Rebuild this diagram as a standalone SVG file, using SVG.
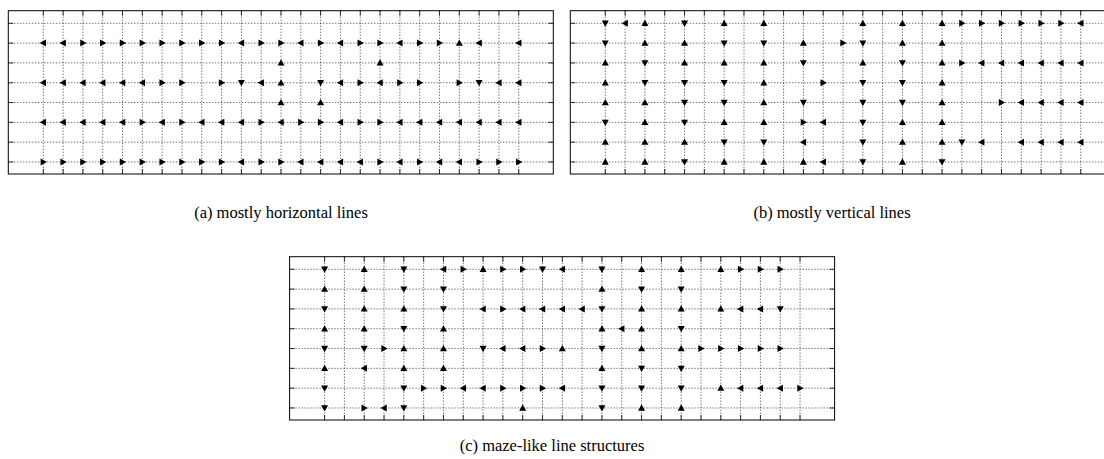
<svg xmlns="http://www.w3.org/2000/svg" xmlns:xlink="http://www.w3.org/1999/xlink" width="1104" height="459" viewBox="0 0 1104 459">
<style>
.grid{fill:none;stroke:#222;stroke-width:0.9;stroke-dasharray:1 2}
.box{fill:none;stroke:#000;stroke-width:1}
.tick{fill:none;stroke:#000;stroke-width:0.8}
.m use{fill:#000}
.cap{font-family:"Liberation Serif","Times New Roman",serif;font-size:16.5px;fill:#000;text-anchor:middle}
</style>
<defs>
<path id="U" d="M0,-3.6L3.5,2.7L-3.5,2.7Z"/>
<path id="D" d="M0,3.6L3.5,-2.7L-3.5,-2.7Z"/>
<path id="R" d="M3.6,0L-2.7,-3.5L-2.7,3.5Z"/>
<path id="L" d="M-3.6,0L2.7,-3.5L2.7,3.5Z"/>
<g id="frame">
<rect x="0" y="0" width="545" height="163.3" fill="#fff"/>
<path class="grid" d="M35,0V163.3M54.81,0V163.3M74.62,0V163.3M94.43,0V163.3M114.24,0V163.3M134.05,0V163.3M153.86,0V163.3M173.67,0V163.3M193.48,0V163.3M213.29,0V163.3M233.1,0V163.3M252.91,0V163.3M272.72,0V163.3M292.53,0V163.3M312.34,0V163.3M332.15,0V163.3M351.96,0V163.3M371.77,0V163.3M391.58,0V163.3M411.39,0V163.3M431.2,0V163.3M451.01,0V163.3M470.82,0V163.3M490.63,0V163.3M510.44,0V163.3M0,12.6H545M0,32.41H545M0,52.22H545M0,72.03H545M0,91.84H545M0,111.65H545M0,131.46H545M0,151.27H545"/>
<path class="tick" d="M35,0v5M54.81,0v5M74.62,0v5M94.43,0v5M114.24,0v5M134.05,0v5M153.86,0v5M173.67,0v5M193.48,0v5M213.29,0v5M233.1,0v5M252.91,0v5M272.72,0v5M292.53,0v5M312.34,0v5M332.15,0v5M351.96,0v5M371.77,0v5M391.58,0v5M411.39,0v5M431.2,0v5M451.01,0v5M470.82,0v5M490.63,0v5M510.44,0v5M35,163.3v-5M54.81,163.3v-5M74.62,163.3v-5M94.43,163.3v-5M114.24,163.3v-5M134.05,163.3v-5M153.86,163.3v-5M173.67,163.3v-5M193.48,163.3v-5M213.29,163.3v-5M233.1,163.3v-5M252.91,163.3v-5M272.72,163.3v-5M292.53,163.3v-5M312.34,163.3v-5M332.15,163.3v-5M351.96,163.3v-5M371.77,163.3v-5M391.58,163.3v-5M411.39,163.3v-5M431.2,163.3v-5M451.01,163.3v-5M470.82,163.3v-5M490.63,163.3v-5M510.44,163.3v-5M0,12.6h5M0,32.41h5M0,52.22h5M0,72.03h5M0,91.84h5M0,111.65h5M0,131.46h5M0,151.27h5M545,12.6h-5M545,32.41h-5M545,52.22h-5M545,72.03h-5M545,91.84h-5M545,111.65h-5M545,131.46h-5M545,151.27h-5"/>
<rect class="box" x="0" y="0" width="545" height="163.3"/>
</g>
</defs>

<g id="panel-a" transform="translate(8.3,10.7)">
<use href="#frame"/>
<g class="m" transform="translate(35,12.6)">
<use href="#L" x="0" y="19.81"/><use href="#L" x="19.81" y="19.81"/><use href="#R" x="39.62" y="19.81"/><use href="#R" x="59.43" y="19.81"/><use href="#R" x="79.24" y="19.81"/><use href="#R" x="99.05" y="19.81"/><use href="#R" x="118.86" y="19.81"/><use href="#R" x="138.67" y="19.81"/><use href="#R" x="158.48" y="19.81"/><use href="#R" x="178.29" y="19.81"/><use href="#L" x="198.1" y="19.81"/><use href="#R" x="217.91" y="19.81"/><use href="#R" x="237.72" y="19.81"/><use href="#L" x="257.53" y="19.81"/><use href="#R" x="277.34" y="19.81"/><use href="#L" x="297.15" y="19.81"/><use href="#R" x="316.96" y="19.81"/><use href="#R" x="336.77" y="19.81"/><use href="#L" x="356.58" y="19.81"/><use href="#R" x="376.39" y="19.81"/><use href="#R" x="396.2" y="19.81"/><use href="#U" x="416.01" y="19.81"/><use href="#L" x="435.82" y="19.81"/><use href="#L" x="475.44" y="19.81"/>
<use href="#U" x="237.72" y="39.62"/><use href="#U" x="336.77" y="39.62"/>
<use href="#L" x="0" y="59.43"/><use href="#L" x="19.81" y="59.43"/><use href="#L" x="39.62" y="59.43"/><use href="#L" x="59.43" y="59.43"/><use href="#L" x="79.24" y="59.43"/><use href="#L" x="99.05" y="59.43"/><use href="#R" x="118.86" y="59.43"/><use href="#R" x="138.67" y="59.43"/><use href="#R" x="178.29" y="59.43"/><use href="#D" x="198.1" y="59.43"/><use href="#L" x="217.91" y="59.43"/><use href="#U" x="237.72" y="59.43"/><use href="#D" x="277.34" y="59.43"/><use href="#L" x="297.15" y="59.43"/><use href="#R" x="316.96" y="59.43"/><use href="#L" x="336.77" y="59.43"/><use href="#R" x="356.58" y="59.43"/><use href="#R" x="376.39" y="59.43"/><use href="#R" x="416.01" y="59.43"/><use href="#D" x="435.82" y="59.43"/><use href="#L" x="455.63" y="59.43"/><use href="#L" x="475.44" y="59.43"/>
<use href="#U" x="237.72" y="79.24"/><use href="#U" x="277.34" y="79.24"/>
<use href="#L" x="0" y="99.05"/><use href="#L" x="19.81" y="99.05"/><use href="#L" x="39.62" y="99.05"/><use href="#L" x="59.43" y="99.05"/><use href="#L" x="79.24" y="99.05"/><use href="#R" x="99.05" y="99.05"/><use href="#L" x="118.86" y="99.05"/><use href="#R" x="138.67" y="99.05"/><use href="#L" x="158.48" y="99.05"/><use href="#L" x="178.29" y="99.05"/><use href="#L" x="198.1" y="99.05"/><use href="#R" x="217.91" y="99.05"/><use href="#L" x="237.72" y="99.05"/><use href="#R" x="257.53" y="99.05"/><use href="#R" x="277.34" y="99.05"/><use href="#L" x="297.15" y="99.05"/><use href="#R" x="316.96" y="99.05"/><use href="#R" x="336.77" y="99.05"/><use href="#L" x="356.58" y="99.05"/><use href="#L" x="376.39" y="99.05"/><use href="#L" x="396.2" y="99.05"/><use href="#L" x="416.01" y="99.05"/><use href="#L" x="435.82" y="99.05"/><use href="#L" x="455.63" y="99.05"/><use href="#L" x="475.44" y="99.05"/>
<use href="#R" x="0" y="138.67"/><use href="#R" x="19.81" y="138.67"/><use href="#R" x="39.62" y="138.67"/><use href="#R" x="59.43" y="138.67"/><use href="#R" x="79.24" y="138.67"/><use href="#R" x="99.05" y="138.67"/><use href="#R" x="118.86" y="138.67"/><use href="#R" x="138.67" y="138.67"/><use href="#R" x="158.48" y="138.67"/><use href="#R" x="178.29" y="138.67"/><use href="#L" x="198.1" y="138.67"/><use href="#R" x="217.91" y="138.67"/><use href="#R" x="237.72" y="138.67"/><use href="#L" x="257.53" y="138.67"/><use href="#L" x="277.34" y="138.67"/><use href="#L" x="297.15" y="138.67"/><use href="#L" x="316.96" y="138.67"/><use href="#R" x="336.77" y="138.67"/><use href="#L" x="356.58" y="138.67"/><use href="#R" x="376.39" y="138.67"/><use href="#L" x="396.2" y="138.67"/><use href="#L" x="416.01" y="138.67"/><use href="#R" x="435.82" y="138.67"/><use href="#R" x="455.63" y="138.67"/><use href="#R" x="475.44" y="138.67"/>
</g>
</g>

<g id="panel-b" transform="translate(570.3,10.7)">
<use href="#frame"/>
<g class="m" transform="translate(35,12.6)">
<use href="#D" x="0" y="0"/><use href="#L" x="19.81" y="0"/><use href="#U" x="39.62" y="0"/><use href="#D" x="79.24" y="0"/><use href="#U" x="118.86" y="0"/><use href="#U" x="158.48" y="0"/><use href="#U" x="257.53" y="0"/><use href="#U" x="297.15" y="0"/><use href="#U" x="336.77" y="0"/><use href="#R" x="356.58" y="0"/><use href="#R" x="376.39" y="0"/><use href="#R" x="396.2" y="0"/><use href="#R" x="416.01" y="0"/><use href="#R" x="435.82" y="0"/><use href="#R" x="455.63" y="0"/><use href="#L" x="475.44" y="0"/>
<use href="#D" x="0" y="19.81"/><use href="#U" x="39.62" y="19.81"/><use href="#U" x="79.24" y="19.81"/><use href="#D" x="118.86" y="19.81"/><use href="#D" x="158.48" y="19.81"/><use href="#U" x="198.1" y="19.81"/><use href="#R" x="237.72" y="19.81"/><use href="#D" x="257.53" y="19.81"/><use href="#U" x="297.15" y="19.81"/><use href="#U" x="336.77" y="19.81"/>
<use href="#U" x="0" y="39.62"/><use href="#D" x="39.62" y="39.62"/><use href="#U" x="79.24" y="39.62"/><use href="#U" x="118.86" y="39.62"/><use href="#U" x="158.48" y="39.62"/><use href="#D" x="198.1" y="39.62"/><use href="#U" x="257.53" y="39.62"/><use href="#D" x="297.15" y="39.62"/><use href="#U" x="336.77" y="39.62"/><use href="#R" x="356.58" y="39.62"/><use href="#L" x="376.39" y="39.62"/><use href="#L" x="396.2" y="39.62"/><use href="#L" x="416.01" y="39.62"/><use href="#L" x="435.82" y="39.62"/><use href="#L" x="455.63" y="39.62"/><use href="#L" x="475.44" y="39.62"/>
<use href="#U" x="0" y="59.43"/><use href="#D" x="39.62" y="59.43"/><use href="#D" x="79.24" y="59.43"/><use href="#D" x="118.86" y="59.43"/><use href="#U" x="158.48" y="59.43"/><use href="#R" x="217.91" y="59.43"/><use href="#D" x="257.53" y="59.43"/><use href="#D" x="297.15" y="59.43"/><use href="#U" x="336.77" y="59.43"/>
<use href="#U" x="0" y="79.24"/><use href="#U" x="39.62" y="79.24"/><use href="#D" x="79.24" y="79.24"/><use href="#D" x="118.86" y="79.24"/><use href="#U" x="158.48" y="79.24"/><use href="#D" x="198.1" y="79.24"/><use href="#D" x="257.53" y="79.24"/><use href="#D" x="297.15" y="79.24"/><use href="#U" x="336.77" y="79.24"/><use href="#R" x="396.2" y="79.24"/><use href="#L" x="416.01" y="79.24"/><use href="#L" x="435.82" y="79.24"/><use href="#L" x="455.63" y="79.24"/><use href="#L" x="475.44" y="79.24"/>
<use href="#D" x="0" y="99.05"/><use href="#U" x="39.62" y="99.05"/><use href="#D" x="79.24" y="99.05"/><use href="#U" x="118.86" y="99.05"/><use href="#U" x="158.48" y="99.05"/><use href="#R" x="198.1" y="99.05"/><use href="#L" x="217.91" y="99.05"/><use href="#D" x="257.53" y="99.05"/><use href="#U" x="297.15" y="99.05"/><use href="#U" x="336.77" y="99.05"/>
<use href="#U" x="0" y="118.86"/><use href="#U" x="39.62" y="118.86"/><use href="#U" x="79.24" y="118.86"/><use href="#D" x="118.86" y="118.86"/><use href="#D" x="158.48" y="118.86"/><use href="#L" x="198.1" y="118.86"/><use href="#D" x="257.53" y="118.86"/><use href="#U" x="297.15" y="118.86"/><use href="#U" x="336.77" y="118.86"/><use href="#D" x="356.58" y="118.86"/><use href="#L" x="376.39" y="118.86"/><use href="#L" x="416.01" y="118.86"/><use href="#L" x="435.82" y="118.86"/><use href="#L" x="455.63" y="118.86"/><use href="#L" x="475.44" y="118.86"/>
<use href="#U" x="0" y="138.67"/><use href="#U" x="39.62" y="138.67"/><use href="#D" x="79.24" y="138.67"/><use href="#U" x="118.86" y="138.67"/><use href="#U" x="158.48" y="138.67"/><use href="#U" x="198.1" y="138.67"/><use href="#L" x="217.91" y="138.67"/><use href="#D" x="257.53" y="138.67"/><use href="#U" x="297.15" y="138.67"/><use href="#D" x="336.77" y="138.67"/>
</g>
</g>

<g id="panel-c" transform="translate(289.6,256.7)">
<use href="#frame"/>
<g class="m" transform="translate(35,12.6)">
<use href="#D" x="0" y="0"/><use href="#U" x="39.62" y="0"/><use href="#D" x="79.24" y="0"/><use href="#L" x="118.86" y="0"/><use href="#R" x="138.67" y="0"/><use href="#U" x="158.48" y="0"/><use href="#R" x="178.29" y="0"/><use href="#R" x="198.1" y="0"/><use href="#D" x="217.91" y="0"/><use href="#L" x="237.72" y="0"/><use href="#D" x="277.34" y="0"/><use href="#U" x="316.96" y="0"/><use href="#U" x="356.58" y="0"/><use href="#U" x="396.2" y="0"/><use href="#R" x="416.01" y="0"/><use href="#R" x="435.82" y="0"/><use href="#R" x="455.63" y="0"/>
<use href="#U" x="0" y="19.81"/><use href="#U" x="39.62" y="19.81"/><use href="#D" x="79.24" y="19.81"/><use href="#D" x="118.86" y="19.81"/><use href="#U" x="277.34" y="19.81"/><use href="#D" x="316.96" y="19.81"/><use href="#D" x="356.58" y="19.81"/>
<use href="#D" x="0" y="39.62"/><use href="#U" x="39.62" y="39.62"/><use href="#U" x="79.24" y="39.62"/><use href="#D" x="118.86" y="39.62"/><use href="#L" x="158.48" y="39.62"/><use href="#R" x="178.29" y="39.62"/><use href="#L" x="198.1" y="39.62"/><use href="#L" x="217.91" y="39.62"/><use href="#L" x="237.72" y="39.62"/><use href="#L" x="257.53" y="39.62"/><use href="#D" x="277.34" y="39.62"/><use href="#U" x="316.96" y="39.62"/><use href="#U" x="356.58" y="39.62"/><use href="#U" x="396.2" y="39.62"/><use href="#L" x="416.01" y="39.62"/><use href="#L" x="435.82" y="39.62"/><use href="#D" x="455.63" y="39.62"/>
<use href="#U" x="0" y="59.43"/><use href="#U" x="39.62" y="59.43"/><use href="#D" x="79.24" y="59.43"/><use href="#U" x="118.86" y="59.43"/><use href="#U" x="277.34" y="59.43"/><use href="#L" x="297.15" y="59.43"/><use href="#U" x="316.96" y="59.43"/><use href="#D" x="356.58" y="59.43"/>
<use href="#D" x="0" y="79.24"/><use href="#D" x="39.62" y="79.24"/><use href="#R" x="59.43" y="79.24"/><use href="#U" x="79.24" y="79.24"/><use href="#U" x="118.86" y="79.24"/><use href="#D" x="158.48" y="79.24"/><use href="#L" x="178.29" y="79.24"/><use href="#L" x="198.1" y="79.24"/><use href="#R" x="217.91" y="79.24"/><use href="#U" x="237.72" y="79.24"/><use href="#D" x="277.34" y="79.24"/><use href="#U" x="316.96" y="79.24"/><use href="#U" x="356.58" y="79.24"/><use href="#R" x="376.39" y="79.24"/><use href="#R" x="396.2" y="79.24"/><use href="#R" x="416.01" y="79.24"/><use href="#R" x="435.82" y="79.24"/><use href="#R" x="455.63" y="79.24"/>
<use href="#U" x="0" y="99.05"/><use href="#L" x="39.62" y="99.05"/><use href="#U" x="79.24" y="99.05"/><use href="#U" x="118.86" y="99.05"/><use href="#U" x="277.34" y="99.05"/><use href="#D" x="316.96" y="99.05"/><use href="#D" x="356.58" y="99.05"/>
<use href="#D" x="0" y="118.86"/><use href="#D" x="79.24" y="118.86"/><use href="#R" x="99.05" y="118.86"/><use href="#R" x="118.86" y="118.86"/><use href="#L" x="138.67" y="118.86"/><use href="#L" x="158.48" y="118.86"/><use href="#R" x="178.29" y="118.86"/><use href="#R" x="198.1" y="118.86"/><use href="#R" x="217.91" y="118.86"/><use href="#L" x="237.72" y="118.86"/><use href="#D" x="277.34" y="118.86"/><use href="#D" x="316.96" y="118.86"/><use href="#D" x="356.58" y="118.86"/><use href="#U" x="396.2" y="118.86"/><use href="#L" x="416.01" y="118.86"/><use href="#L" x="435.82" y="118.86"/><use href="#L" x="455.63" y="118.86"/><use href="#R" x="475.44" y="118.86"/>
<use href="#D" x="0" y="138.67"/><use href="#R" x="39.62" y="138.67"/><use href="#L" x="59.43" y="138.67"/><use href="#D" x="79.24" y="138.67"/><use href="#U" x="198.1" y="138.67"/><use href="#D" x="277.34" y="138.67"/><use href="#U" x="316.96" y="138.67"/><use href="#U" x="356.58" y="138.67"/>
</g>
</g>

<g id="captions">
<text class="cap" x="281" y="218">(a) mostly horizontal lines</text>
<text class="cap" x="832" y="218">(b) mostly vertical lines</text>
<text class="cap" x="552" y="451">(c) maze-like line structures</text>
</g>
</svg>
